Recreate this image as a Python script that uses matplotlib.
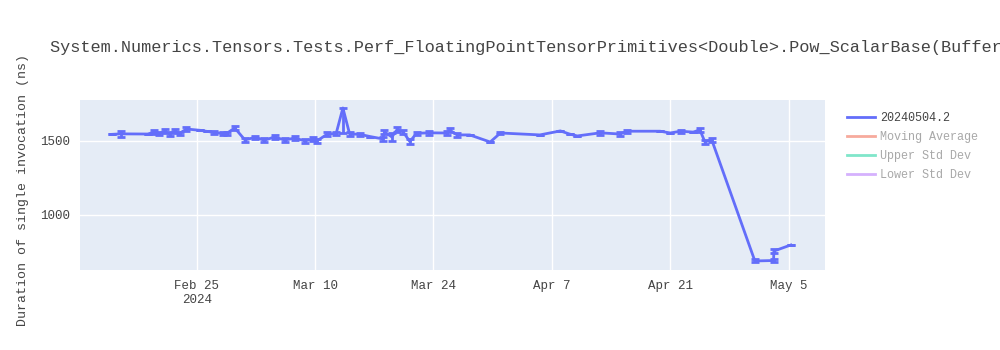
import matplotlib
matplotlib.use("Agg")
import matplotlib.pyplot as plt
from matplotlib.lines import Line2D
import pandas as pd

# build 20240504.2 run, one point per benchmark result
dates = [
    "2024-02-15 01:00", "2024-02-16 00:00", "2024-02-19 05:00", "2024-02-20 00:00",
    "2024-02-20 14:00", "2024-02-21 05:00", "2024-02-21 19:00", "2024-02-22 10:00",
    "2024-02-23 00:00", "2024-02-23 19:00", "2024-02-25 10:00", "2024-02-26 05:00",
    "2024-02-27 02:00", "2024-02-28 02:00", "2024-02-28 14:00", "2024-02-29 12:00",
    "2024-03-01 17:00", "2024-03-02 22:00", "2024-03-04 00:00", "2024-03-05 05:00",
    "2024-03-06 10:00", "2024-03-07 14:00", "2024-03-08 19:00", "2024-03-09 17:00",
    "2024-03-10 05:00", "2024-03-11 10:00", "2024-03-12 12:00", "2024-03-13 07:00",
    "2024-03-14 02:00", "2024-03-15 07:00", "2024-03-16 12:00", "2024-03-18 00:00",
    "2024-03-18 05:00", "2024-03-19 02:00", "2024-03-19 17:00", "2024-03-20 10:00",
    "2024-03-21 05:00", "2024-03-22 00:00", "2024-03-23 12:00", "2024-03-25 14:00",
    "2024-03-25 22:00", "2024-03-26 19:00", "2024-03-28 07:00", "2024-03-30 17:00",
    "2024-03-31 22:00", "2024-04-05 14:00", "2024-04-08 00:00", "2024-04-09 02:00",
    "2024-04-10 00:00", "2024-04-12 17:00", "2024-04-15 02:00", "2024-04-15 22:00",
    "2024-04-19 19:00", "2024-04-21 00:00", "2024-04-22 05:00", "2024-04-23 17:00",
    "2024-04-24 12:00", "2024-04-25 02:00", "2024-04-25 22:00", "2024-05-01 00:00",
    "2024-05-03 05:00", "2024-05-03 06:00", "2024-05-05 06:00",
]
values = [
    1545, 1548, 1547, 1560, 1550, 1565, 1548, 1566,
    1552, 1581, 1572, 1565, 1558, 1550, 1552, 1588,
    1507, 1525, 1505, 1527, 1506, 1520, 1500, 1512,
    1500, 1545, 1552, 1723, 1548, 1545, 1530, 1514,
    1561, 1527, 1578, 1561, 1496, 1552, 1555, 1554,
    1574, 1541, 1541, 1493, 1554, 1541, 1568, 1547,
    1534, 1555, 1547, 1566, 1566, 1554, 1566, 1560,
    1575, 1495, 1505, 689, 692, 756, 797,
]
err_lo = [
    0, 18, 0, 14, 12, 14, 12, 14,
    12, 12, 0, 0, 10, 12, 12, 14,
    14, 12, 14, 12, 14, 12, 12, 14,
    12, 14, 12, 170, 12, 12, 0, 14,
    16, 30, 14, 12, 16, 12, 12, 12,
    12, 12, 0, 0, 10, 0, 0, 0,
    0, 12, 12, 10, 0, 0, 10, 0,
    12, 14, 12, 10, 10, 12, 0,
]
err_hi = [
    0, 18, 0, 14, 12, 14, 12, 14,
    12, 12, 0, 0, 10, 12, 12, 14,
    14, 12, 14, 12, 14, 12, 12, 14,
    12, 14, 12, 0, 12, 12, 0, 14,
    16, 30, 14, 12, 16, 12, 12, 12,
    12, 12, 0, 0, 10, 0, 0, 0,
    0, 12, 12, 10, 0, 0, 10, 0,
    12, 14, 12, 10, 10, 12, 0,
]
legend_labels = ["20240504.2", "Moving Average", "Upper Std Dev", "Lower Std Dev"]

BLUE = "#636EFA"
FADED = ["#f7aa9d", "#80e6ca", "#d5b1fd"]
INK = "#444444"
MONO = "Liberation Mono"

x = pd.to_datetime(dates)

fig = plt.figure(figsize=(10, 3.5), dpi=100)
ax = fig.add_axes([0.08, 0.2286, 0.745, 0.4857])
ax.set_facecolor("#E5ECF6")
ax.errorbar(x, values, yerr=[err_lo, err_hi], color=BLUE, linewidth=2,
            elinewidth=2, capsize=3, capthick=2, zorder=3)

ax.set_xlim(pd.Timestamp("2024-02-11 05:00"), pd.Timestamp("2024-05-09 07:00"))
ax.set_ylim(628, 1777)
ax.set_yticks([1000, 1500])
ticks = pd.to_datetime(["2024-02-25", "2024-03-10", "2024-03-24",
                        "2024-04-07", "2024-04-21", "2024-05-05"])
ax.set_xticks(ticks)
ax.set_xticklabels(["Feb 25\n2024", "Mar 10", "Mar 24", "Apr 7", "Apr 21", "May 5"])
ax.grid(True, color="white", linewidth=1)
ax.set_axisbelow(True)
for s in ax.spines.values():
    s.set_visible(False)
ax.tick_params(length=0, labelsize=9, labelcolor=INK, pad=7)
for lab in ax.get_xticklabels() + ax.get_yticklabels():
    lab.set_fontfamily(MONO)
ax.set_ylabel("Duration of single invocation (ns)", fontsize=9.5, color=INK,
              family=MONO)
ax.yaxis.set_label_coords(-0.068, 0.47)

fig.text(0.05, 0.865,
         "System.Numerics.Tensors.Tests.Perf_FloatingPointTensorPrimitives<Double>.Pow_ScalarBase(BufferLength: 128)",
         fontsize=12.2, color=INK, family=MONO, va="center", ha="left")

handles = [Line2D([], [], color=BLUE, linewidth=2)] + \
          [Line2D([], [], color=c, linewidth=2) for c in FADED]
leg = fig.legend(handles, legend_labels, loc="upper left",
                 bbox_to_anchor=(0.836, 0.71), frameon=False,
                 prop={"family": MONO, "size": 8.5}, handlelength=2.4,
                 labelspacing=0.6, handletextpad=0.45)
for i, t in enumerate(leg.get_texts()):
    t.set_color(INK if i == 0 else "#a8a8a8")

fig.savefig("out.png")
